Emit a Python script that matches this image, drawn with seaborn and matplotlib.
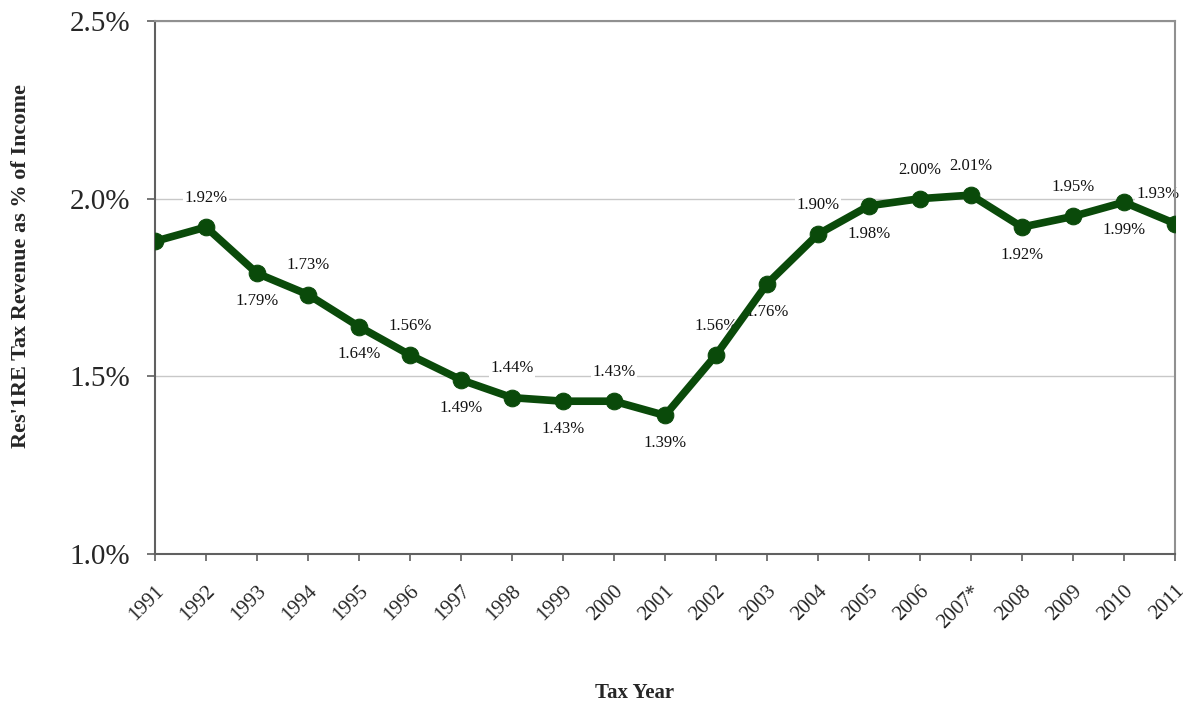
import matplotlib
matplotlib.use("Agg")
import matplotlib.pyplot as plt
import seaborn as sns
import numpy as np
import pandas as pd

years = ["1991", "1992", "1993", "1994", "1995", "1996", "1997", "1998", "1999", "2000",
         "2001", "2002", "2003", "2004", "2005", "2006", "2007*", "2008", "2009", "2010", "2011"]
values = [1.88, 1.92, 1.79, 1.73, 1.64, 1.56, 1.49, 1.44, 1.43, 1.43,
          1.39, 1.56, 1.76, 1.90, 1.98, 2.00, 2.01, 1.92, 1.95, 1.99, 1.93]
labels = ["", "1.92%", "1.79%", "1.73%", "1.64%", "1.56%", "1.49%", "1.44%", "1.43%", "1.43%",
          "1.39%", "1.56%", "1.76%", "1.90%", "1.98%", "2.00%", "2.01%", "1.92%", "1.95%", "1.99%", "1.93%"]
label_side = [0, 1, -1, 1, -1, 1, -1, 1, -1, 1,
              -1, 1, -1, 1, -1, 1, 1, -1, 1, -1, 1]
yticks = [1.0, 1.5, 2.0, 2.5]

sns.set_theme(style="white")
plt.rcParams['font.family'] = ['Liberation Serif', 'DejaVu Serif']

df = pd.DataFrame({"idx": np.arange(len(years)), "val": values})

fig = plt.figure(figsize=(11.83, 7.01), dpi=100)
ax = fig.add_axes([155/1183, 1 - 554/701, (1175-155)/1183, (554-21)/701])

green = "#0a4a0a"
sns.lineplot(data=df, x="idx", y="val", ax=ax, color=green, linewidth=5.5,
             marker="o", markersize=12, markeredgecolor=green, zorder=3)

ax.set_xlim(0, len(years) - 1)
ax.set_ylim(1.0, 2.5)
ax.set_yticks(yticks)
ax.set_yticklabels([f"{t:.1f}%" for t in yticks], fontsize=21)
ax.set_xticks(df["idx"])
ax.set_xticklabels(years, rotation=45, ha="right", rotation_mode="anchor", fontsize=15)

for y in [1.5, 2.0, 2.5]:
    ax.axhline(y, color="#c8c8c8", linewidth=1.0, zorder=0)

for spine in ["left", "bottom"]:
    ax.spines[spine].set_color("#606060")
    ax.spines[spine].set_linewidth(1.5)
for spine in ["top", "right"]:
    ax.spines[spine].set_color("#909090")
    ax.spines[spine].set_linewidth(1.5)

ax.tick_params(axis="y", which="major", left=True, length=6, width=1.2, color="#606060", pad=12)
ax.tick_params(axis="x", which="major", bottom=True, length=5, width=1.2, color="#606060", pad=15)

for i, (v, lab, side) in enumerate(zip(values, labels, label_side)):
    if not lab:
        continue
    dx = -12 if i == len(values) - 1 else 0
    dy = 21 if side > 0 else -20
    ax.annotate(lab, (i, v), xytext=(dx, dy), textcoords="offset points",
                ha="center", va="center", fontsize=12, color="#111111",
                bbox=dict(boxstyle="square,pad=0.1", fc="white", ec="none"),
                zorder=2, annotation_clip=False)

ax.set_xlabel("Tax Year", fontsize=15, fontweight="bold")
ax.set_ylabel("Res'1RE Tax Revenue as % of Income", fontsize=16, fontweight="bold")
ax.xaxis.set_label_coords(0.47, -0.242)
ax.yaxis.set_label_coords(-0.122, 0.54)

fig.savefig("out.png", dpi=100)
